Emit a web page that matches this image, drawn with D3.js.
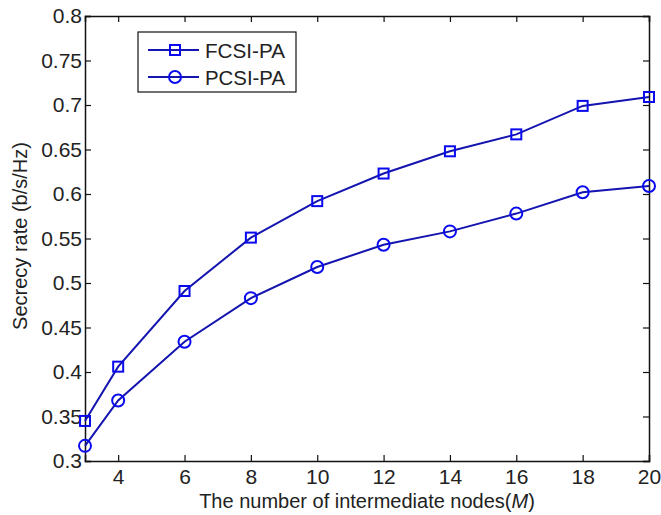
<!DOCTYPE html>
<html>
<head>
<meta charset="utf-8">
<script src="https://cdn.jsdelivr.net/npm/d3@7"></script>
<style>
  body { margin: 0; background: #fff; }
  text { font-family: "Liberation Sans", Arial, sans-serif; fill: #222; }
</style>
</head>
<body>
<div id="chart"></div>
<script>
var width = 661,
    height = 515;

var margin = { top: 16, right: 12, bottom: 54, left: 85 };

// data
var nodes = [3, 4, 6, 8, 10, 12, 14, 16, 18, 20];
var fcsi = [0.345, 0.406, 0.491, 0.551, 0.592, 0.623, 0.648, 0.667, 0.699, 0.709];
var pcsi = [0.317, 0.368, 0.434, 0.483, 0.518, 0.543, 0.558, 0.578, 0.602, 0.609];
var xTicks = [4, 6, 8, 10, 12, 14, 16, 18, 20];
var yTicks = [0.3, 0.35, 0.4, 0.45, 0.5, 0.55, 0.6, 0.65, 0.7, 0.75, 0.8];
var seriesNames = ["FCSI-PA", "PCSI-PA"];

var lineColor = "#1414b0",
    markColor = "#0a0aee";

var x = d3.scaleLinear()
    .domain([3, 20])
    .range([margin.left, width - margin.right]);

var y = d3.scaleLinear()
    .domain([0.3, 0.8])
    .range([height - margin.bottom, margin.top]);

var svg = d3.select("#chart").append("svg")
    .attr("width", width)
    .attr("height", height);

// axes, MATLAB style: ticks pointing in, on all four sides
var tickLen = 6;
var fmt = function(d) { return String(+d.toFixed(2)); };

svg.append("g")
    .attr("transform", "translate(0," + y.range()[0] + ")")
    .call(d3.axisBottom(x).tickValues(xTicks).tickSize(-tickLen).tickPadding(8).tickFormat(d3.format("d")))
    .call(styleAxis);

svg.append("g")
    .attr("transform", "translate(0," + y.range()[1] + ")")
    .call(d3.axisTop(x).tickValues(xTicks).tickSize(-tickLen).tickFormat(""))
    .call(styleAxis);

svg.append("g")
    .attr("transform", "translate(" + x.range()[0] + ",0)")
    .call(d3.axisLeft(y).tickValues(yTicks).tickSize(-tickLen).tickPadding(3).tickFormat(fmt))
    .call(styleAxis);

svg.append("g")
    .attr("transform", "translate(" + x.range()[1] + ",0)")
    .call(d3.axisRight(y).tickValues(yTicks).tickSize(-tickLen).tickFormat(""))
    .call(styleAxis);

function styleAxis(g) {
  g.select(".domain").attr("stroke", "#111").attr("stroke-width", 1.5);
  g.selectAll(".tick line").attr("stroke", "#111").attr("stroke-width", 1.2);
  g.selectAll(".tick text")
    .style("font-family", "'Liberation Sans', Arial, sans-serif")
    .style("font-size", "21px")
    .attr("fill", "#333");
}

var line = d3.line()
    .x(function(d, i) { return x(nodes[i]); })
    .y(function(d) { return y(d); });

function drawSeries(vals, shape) {
  svg.append("path")
      .datum(vals)
      .attr("fill", "none")
      .attr("stroke", lineColor)
      .attr("stroke-width", 2)
      .attr("d", line);

  var pts = svg.append("g").selectAll("g")
    .data(vals)
    .join("g")
      .attr("transform", function(d, i) { return "translate(" + x(nodes[i]) + "," + y(d) + ")"; });
  drawMarker(pts, shape);
}

function drawMarker(sel, shape) {
  if (shape == "square") {
    sel.append("rect")
        .attr("x", -5).attr("y", -5)
        .attr("width", 10).attr("height", 10)
        .attr("fill", "none")
        .attr("stroke", markColor)
        .attr("stroke-width", 2);
  } else {
    sel.append("circle")
        .attr("r", 6)
        .attr("fill", "none")
        .attr("stroke", markColor)
        .attr("stroke-width", 2);
  }
}

drawSeries(fcsi, "square");
drawSeries(pcsi, "circle");

// legend
var legend = svg.append("g").attr("transform", "translate(138,32)");
legend.append("rect")
    .attr("width", 158).attr("height", 60)
    .attr("fill", "#fff")
    .attr("stroke", "#111")
    .attr("stroke-width", 1.2);

var shapes = ["square", "circle"];
seriesNames.forEach(function(name, i) {
  var row = legend.append("g").attr("transform", "translate(0," + (18 + i * 27) + ")");
  row.append("line")
      .attr("x1", 10).attr("x2", 61)
      .attr("stroke", lineColor).attr("stroke-width", 2);
  drawMarker(row.append("g").attr("transform", "translate(37,0)"), shapes[i]);
  row.append("text")
      .attr("x", 67).attr("dy", "0.36em")
      .attr("textLength", 80)
      .attr("lengthAdjust", "spacingAndGlyphs")
      .style("font-size", "21px")
      .attr("fill", "#333")
      .text(name);
});

// axis labels
var xl = svg.append("text")
    .attr("x", (x.range()[0] + x.range()[1]) / 2)
    .attr("y", 508)
    .attr("text-anchor", "middle")
    .attr("fill", "#333")
    .style("font-size", "20px");
xl.append("tspan").text("The number of intermediate nodes(");
xl.append("tspan").style("font-style", "italic").text("M");
xl.append("tspan").text(")");

svg.append("text")
    .attr("transform", "translate(27,236) rotate(-90)")
    .attr("text-anchor", "middle")
    .attr("fill", "#333")
    .style("font-size", "20px")
    .text("Secrecy rate (b/s/Hz)");
</script>
</body>
</html>
